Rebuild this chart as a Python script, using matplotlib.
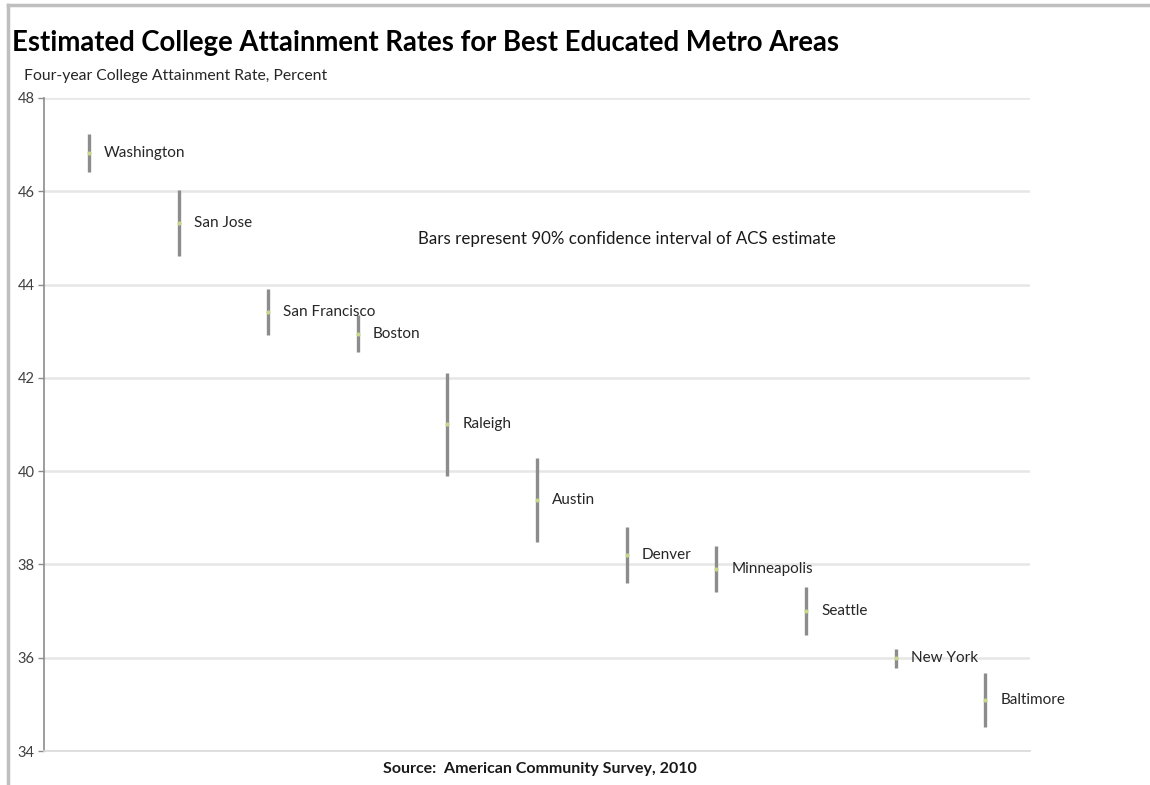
import matplotlib.pyplot as plt
from matplotlib.lines import Line2D

# metro areas, ACS 2010 estimate and half-width of the 90% interval
metros = ["Washington", "San Jose", "San Francisco", "Boston", "Raleigh", "Austin",
          "Denver", "Minneapolis", "Seattle", "New York", "Baltimore"]
rates = [46.82, 45.32, 43.41, 42.95, 41.00, 39.38, 38.20, 37.90, 37.00, 35.99, 35.09]
margins = [0.40, 0.70, 0.49, 0.40, 1.10, 0.90, 0.60, 0.49, 0.51, 0.20, 0.58]
yticks = [34, 36, 38, 40, 42, 44, 46, 48]

plt.rcParams['font.family'] = ['Lato', 'DejaVu Sans']

fig = plt.figure(figsize=(11.5, 7.85), dpi=100)
ax = fig.add_axes([0.0383, 0.0433, 0.8574, 0.8319])

x = list(range(len(metros)))
ax.errorbar(x, rates, yerr=margins, fmt='o', color='#c5d88a', markersize=2,
            ecolor='#8c8c8c', elinewidth=2.4, capsize=0, zorder=3)
for i, name in enumerate(metros):
    ax.annotate(name, (x[i], rates[i]), xytext=(11, 0), textcoords='offset points',
                va='center', ha='left', fontsize=11, color='#262626', zorder=4)

ax.set_xlim(-0.5, len(metros) - 0.5)
ax.set_ylim(34, 48)
ax.set_yticks(yticks)
ax.set_xticks([])
ax.yaxis.grid(True, color='#e6e6e6', linewidth=1.8)
ax.set_axisbelow(True)
for s in ['top', 'right']:
    ax.spines[s].set_visible(False)
ax.spines['left'].set_color('#8c8c8c')
ax.spines['left'].set_linewidth(1.2)
ax.spines['bottom'].set_color('#d9d9d9')
ax.spines['bottom'].set_linewidth(1.2)
ax.tick_params(axis='y', length=4, width=1, color='#8c8c8c', labelsize=10.5,
               labelcolor='#404040', pad=3)

ax.text(0.379, 0.784, "Bars represent 90% confidence interval of ACS estimate",
        transform=ax.transAxes, fontsize=12.2, color='#1a1a1a', va='center')

fig.text(0.0104, 0.945, "Estimated College Attainment Rates for Best Educated Metro Areas",
         fontsize=19.8, fontweight='bold', color='#000000', va='center')
fig.text(0.021, 0.903, "Four-year College Attainment Rate, Percent",
         fontsize=11.3, color='#262626', va='center')
fig.text(0.333, 0.0204, "Source:  American Community Survey, 2010",
         fontsize=11.5, fontweight='bold', color='#1a1a1a', va='center')

# thin frame along the top and left edge
fig.add_artist(Line2D([0.007, 1.0], [0.994, 0.994], transform=fig.transFigure,
                      color='#bfbfbf', linewidth=2.5))
fig.add_artist(Line2D([0.007, 0.007], [0.0, 0.994], transform=fig.transFigure,
                      color='#bfbfbf', linewidth=2.5))

fig.savefig("out.png", dpi=100)
